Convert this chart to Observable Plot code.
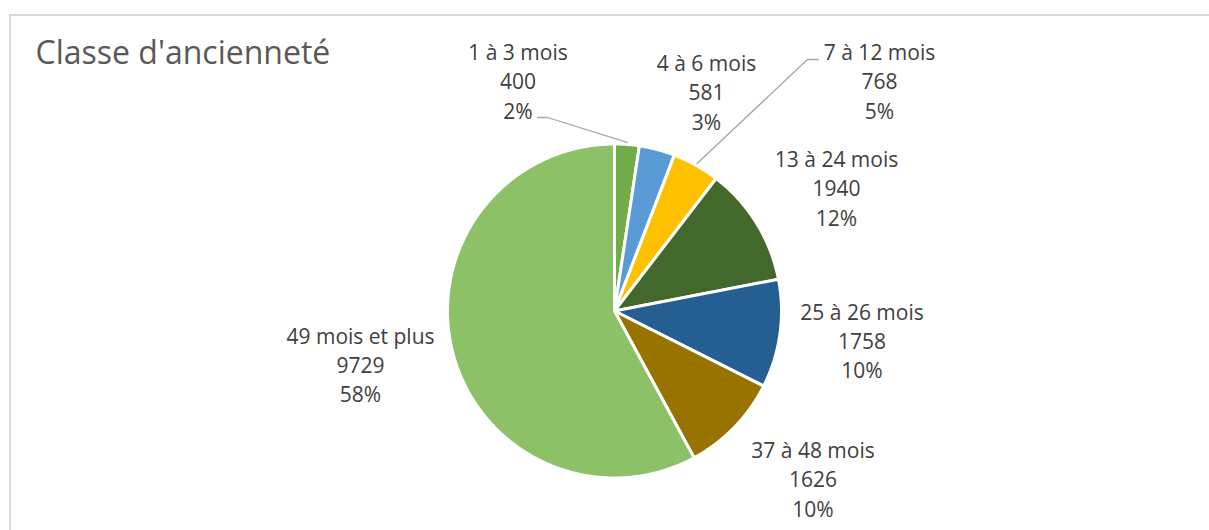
<!DOCTYPE html>
<html>
<head>
<meta charset="utf-8">
<script src="https://cdn.jsdelivr.net/npm/d3@7"></script>
<script src="https://cdn.jsdelivr.net/npm/@observablehq/plot@0.6"></script>
<style>
  html, body { margin: 0; padding: 0; background: white; }
  #wrap { position: relative; width: 1209px; height: 530px; overflow: hidden; }
  #border { position: absolute; left: 9px; top: 14px; width: 1400px; height: 700px;
            border-top: 2px solid #D9D9D9; border-left: 2px solid #D9D9D9; pointer-events: none; }
</style>
</head>
<body>
<div id="wrap"><div id="chart"></div><div id="border"></div></div>
<script>
// ---- data ----
const title = "Classe d'ancienneté";
const categories = ["1 à 3 mois", "4 à 6 mois", "7 à 12 mois", "13 à 24 mois", "25 à 26 mois", "37 à 48 mois", "49 mois et plus"];
const values = [400, 581, 768, 1940, 1758, 1626, 9729];
const colors = ["#70AD47", "#5B9BD5", "#FFC000", "#43682B", "#255E91", "#997300", "#8DC167"];

// ---- layout (pixels relative to the pie centre) ----
const W = 1209, H = 530;
const cx = 614, cy = 310.5, R = 167;
const labelOffsets = [[-96.5, -231], [92, -220], [265, -231], [222, -124], [247.5, 28.5], [198.5, 167], [-254, 52.5]];
// leader-line elbows for labels placed away from their slice
const leaderElbows = {
  "1 à 3 mois": [[-77, -193.5], [-67, -193.5]],
  "7 à 12 mois": [[204, -251.5], [193, -251.5]]
};

const total = d3.sum(values);
const rows = categories.map((name, i) => ({name, value: values[i]}));
const arcs = d3.pie().sort(null).value(d => d.value).startAngle(0).endAngle(2 * Math.PI)(rows);

// slice polygons (centre + arc vertices)
const slicePts = [];
for (const a of arcs) {
  const name = a.data.name;
  slicePts.push({name, x: 0, y: 0});
  const n = Math.max(2, Math.ceil((a.endAngle - a.startAngle) / (Math.PI / 360)));
  for (let k = 0; k <= n; k++) {
    const t = a.startAngle + (a.endAngle - a.startAngle) * k / n;
    slicePts.push({name, x: R * Math.sin(t), y: -R * Math.cos(t)});
  }
}

// leader lines
const leaderPts = [];
for (const a of arcs) {
  const el = leaderElbows[a.data.name];
  if (!el) continue;
  const mid = (a.startAngle + a.endAngle) / 2;
  for (const [x, y] of el) leaderPts.push({name: a.data.name, x, y});
  leaderPts.push({name: a.data.name, x: (R + 2) * Math.sin(mid), y: -(R + 2) * Math.cos(mid)});
}

const labels = rows.map((d, i) => ({
  x: labelOffsets[i][0], y: labelOffsets[i][1],
  text: `${d.name}\n${d.value}\n${Math.round(d.value / total * 100)}%`
}));

const chart = Plot.plot({
  width: W, height: H,
  margin: 0,
  style: {background: "transparent"},
  x: {domain: [-cx, W - cx], axis: null},
  y: {domain: [-cy, H - cy], range: [0, H], axis: null},
  color: {domain: categories, range: colors},
  marks: [
    Plot.line(slicePts, {x: "x", y: "y", z: "name", fill: "name", stroke: "white", strokeWidth: 3,
      strokeLinejoin: "round", curve: "linear-closed"}),
    Plot.line(leaderPts, {x: "x", y: "y", z: "name", stroke: "#A6A6A6", strokeWidth: 1.3}),
    Plot.text(labels, {x: "x", y: "y", text: "text", fontSize: 21, fontFamily: "Open Sans",
      fill: "#404040", lineHeight: 1.4, textAnchor: "middle"}),
    Plot.text([title], {frameAnchor: "top-left", dx: 35, dy: 63, lineAnchor: "bottom", textAnchor: "start",
      fontSize: 32, fontFamily: "Open Sans", fill: "#595959"})
  ]
});
document.getElementById("chart").appendChild(chart);
</script>
</body>
</html>
